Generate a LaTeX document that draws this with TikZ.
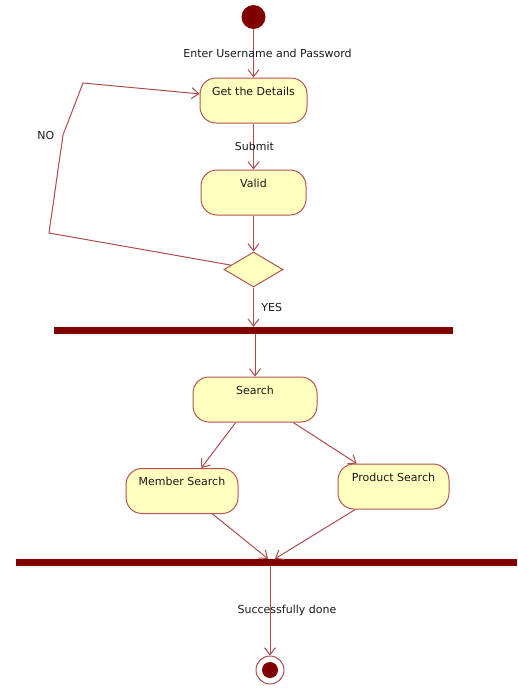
\documentclass[tikz,border=0pt]{standalone}
\usepackage{fontspec}
\setmainfont{DejaVu Sans}
\usetikzlibrary{arrows.meta,shapes.geometric}
\definecolor{barred}{RGB}{128,0,0}
\definecolor{flowline}{RGB}{172,76,76}
\definecolor{actfill}{RGB}{255,255,192}
\definecolor{actline}{RGB}{178,84,84}

\begin{document}
\begin{tikzpicture}[x=1pt, y=-1pt, >={Straight Barb[length=7pt,width=11pt]},
    font=\fontsize{11}{13}\selectfont, text=black!90,
    act/.style={rectangle, draw=actline, fill=actfill, rounded corners=16pt, line width=1pt,
        inner xsep=2pt, inner ysep=4pt, text height=13pt, text depth=24pt},
    bar/.style={rectangle, fill=barred, inner sep=0pt, minimum height=7pt},
    flow/.style={->, draw=flowline, line width=1pt}]
    \useasboundingbox (0,0) rectangle (517,696);
    % Login and search activity flow
    \node (start) at (253.5,17) [circle, fill=barred, minimum size=24pt, inner sep=0pt] {};

    \node (getd) at (253.5,100.5) [act, minimum width=107pt] {Get the Details};
    \node (valid) at (253.5,192.5) [act, minimum width=105pt] {Valid};
    \node (dec) at (253.5,269.5) [diamond, draw=actline, fill=actfill, line width=1pt,
        inner sep=0pt, minimum width=59pt, minimum height=35pt] {};

    \node (fork) at (253.5,330.5) [bar, minimum width=399pt] {};

    \node (search) at (255,399.5) [act, minimum width=124pt] {Search};
    \node (member) at (182,491) [act, minimum width=112pt] {Member Search};
    \node (product) at (393.5,486.5) [act, minimum width=111pt] {Product Search};

    \node (join) at (266.5,562.5) [bar, minimum width=501pt] {};

    \node (fin) at (270,670) [circle, draw=flowline, fill=white, line width=1pt, minimum size=28pt, inner sep=0pt] {};
    \node (fincore) at (fin) [circle, fill=barred, minimum size=16pt, inner sep=0pt] {};

    \draw [flow] (start) -- (getd) node [midway, xshift=14pt] {Enter Username and Password};
    \draw [flow] (getd) -- (valid) node [midway, xshift=1pt] {Submit};
    \draw [flow] (valid) -- (dec);

    % NO branch back to the details
    \draw [flow] (dec.169) -- (49,233) -- (63,135) node [pos=1, left=5pt] {NO}
        -- (83,83) -- (getd.173);

    \draw [flow] (dec) -- (fork.north) node [midway, right=4pt] {YES};
    \draw [flow] (search |- fork.south) -- (search);

    \draw [flow] (search.230) -- (member.50);
    \draw [flow] (search.329) -- (product.148);

    \draw [flow] (member.323) -- ([xshift=1.5pt]join.north);
    \draw [flow] (product.211) -- ([xshift=8.5pt]join.north);

    \draw [flow] (fin |- join.south) -- (fin) node [midway, xshift=17pt] {Successfully done};
\end{tikzpicture}
\end{document}
